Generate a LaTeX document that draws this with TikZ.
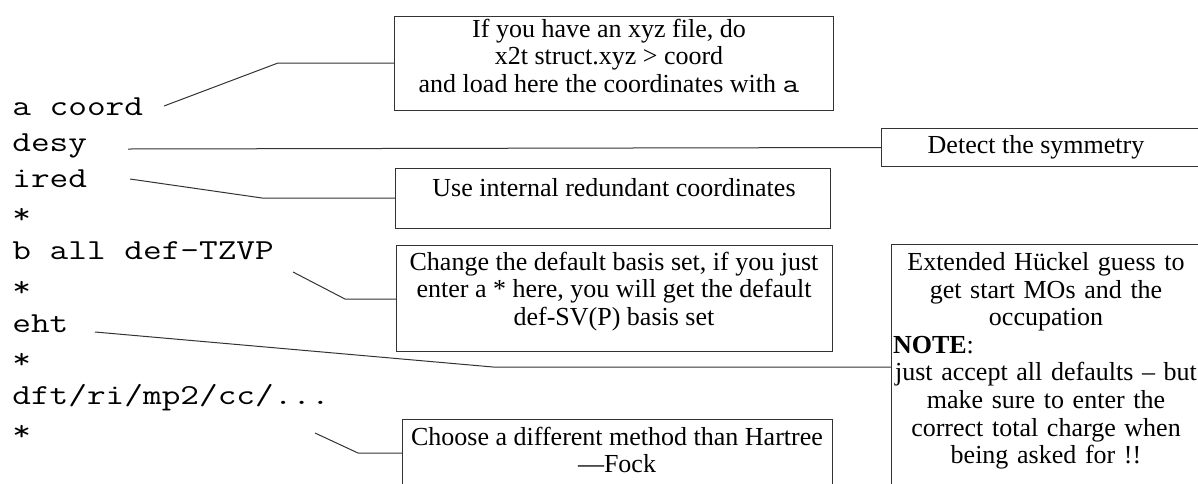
\documentclass[tikz,border=0pt]{standalone}
\usepackage{fontspec}
\setmainfont{Liberation Serif}
\setmonofont[FakeStretch=1.25]{Latin Modern Mono}
\tikzset{
	cmd/.style={anchor=base west, inner sep=0pt, font=\fontsize{14.5}{18}\ttfamily},
	notebox/.style={draw=black!80, line width=0.5pt, anchor=north west, inner sep=0pt},
	notetext/.style={anchor=north, align=center, inner sep=0pt, font=\fontsize{13}{13.6}\selectfont},
	leader/.style={draw=black!80, line width=0.5pt},
}

\begin{document}
\begin{tikzpicture}[x=0.5pt, y=-0.5pt]
			%%%%% START %%%%%
			
			\useasboundingbox (0, 0) rectangle (1198, 483);
			\clip (0, 0) rectangle (1198, 483);
			
			\node[cmd] (acoord) at (12, 115) {a coord};
			\node[cmd] (desy) at (12, 151.2) {desy};
			\node[cmd] (ired) at (12, 187.4) {ired};
			\node[cmd] (star1) at (12, 223.6) {*};
			\node[cmd] (basis) at (12, 259.8) {b all def-TZVP};
			\node[cmd] (star2) at (12, 296) {*};
			\node[cmd] (eht) at (12, 332.2) {eht};
			\node[cmd] (star3) at (12, 368.4) {*};
			\node[cmd] (method) at (12, 404.6) {dft/ri/mp2/cc/...};
			\node[cmd] (star4) at (12, 440.8) {*};
			
			\node[notebox, minimum width=219.5pt, minimum height=47pt] (xyzbox) at (394, 16) {};
			\node[notetext] (xyztext) at (609, 19) {If you have an xyz file, do\\x2t struct.xyz > coord\\and load here the coordinates with {\ttfamily a}};
			
			\node[notebox, minimum width=165pt, minimum height=19pt] (symbox) at (881, 128) {};
			\node[notetext] (symtext) at (1036, 135) {Detect the symmetry};
			
			\node[notebox, minimum width=217.5pt, minimum height=30pt] (iredbox) at (395, 168) {};
			\node[notetext] (iredtext) at (614, 178) {Use internal redundant coordinates};
			
			\node[notebox, minimum width=218pt, minimum height=53pt] (basisbox) at (396, 245) {};
			\node[notetext] (basistext) at (614, 252) {Change the default basis set, if you just\\enter a * here, you will get the default\\def-SV(P) basis set};
			
			\node[notebox, minimum width=155pt, minimum height=150pt] (ehtbox) at (891, 244) {};
			\node[notetext, text width=153pt, font=\fontsize{13}{13.8}\selectfont] (ehttext) at (1046, 252) {Extended Hückel guess to\\get start MOs and the\\occupation\\\makebox[\linewidth][l]{\textbf{NOTE}:}\\just accept all defaults -- but\\make sure to enter the\\correct total charge when\\being asked for !!};
			
			\node[notebox, minimum width=215pt, minimum height=50pt] (methodbox) at (402, 419) {};
			\node[notetext] (methodtext) at (617, 427) {Choose a different method than Hartree\\---Fock};
			
			% leader lines
			\coordinate (l1) at (164, 106);
			\coordinate (k1) at (278, 63);
			\draw[leader] (l1) -- (k1) -- (k1 -| xyzbox.west);
			
			\coordinate (l2) at (128, 149);
			\draw[leader] (l2) -- (symbox.west);
			
			\coordinate (l3) at (130, 179);
			\coordinate (k3) at (262, 198);
			\draw[leader] (l3) -- (k3) -- (k3 -| iredbox.west);
			
			\coordinate (l4) at (293, 272);
			\coordinate (k4) at (345, 299);
			\draw[leader] (l4) -- (k4) -- (k4 -| basisbox.west);
			
			\coordinate (l5) at (95, 332);
			\coordinate (k5) at (493, 367);
			\draw[leader] (l5) -- (k5) -- (k5 -| ehtbox.west);
			
			\coordinate (l6) at (315, 433);
			\coordinate (k6) at (358, 453);
			\draw[leader] (l6) -- (k6) -- (k6 -| methodbox.west);
			
			%%%%% END %%%%%
\end{tikzpicture}
\end{document}
